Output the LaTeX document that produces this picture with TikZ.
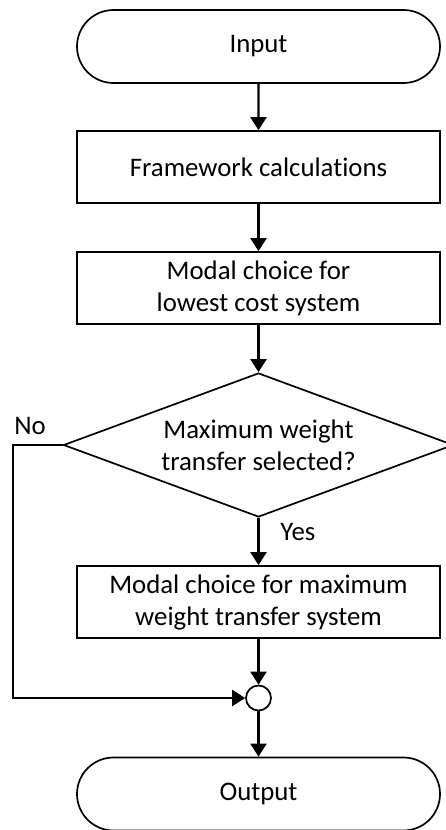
\documentclass[tikz,border=0pt]{standalone}
\usepackage{fontspec}
\setmainfont[Ligatures=NoCommon]{Carlito}
\usetikzlibrary{shapes.misc,shapes.geometric,arrows.meta}
\begin{document}
\begin{tikzpicture}[x=0.5pt,y=-0.5pt,
  every node/.style={font=\fontsize{13.4}{16}\selectfont},
  term/.style={draw,line width=0.85pt,rounded rectangle,minimum width=181.5pt,minimum height=36.5pt,inner sep=0pt},
  proc/.style={draw,line width=0.85pt,rectangle,minimum width=181.5pt,minimum height=36pt,align=center,inner sep=0pt},
  decision/.style={draw,line width=0.85pt,diamond,minimum width=195pt,minimum height=72pt,aspect=2.7,align=center,inner sep=0pt},
  junction/.style={draw,line width=0.85pt,circle,minimum size=12.5pt,inner sep=0pt},
  flow/.style={line width=1.1pt,-{Triangle[width=8pt,length=6.5pt]}},
  lbl/.style={anchor=west,inner sep=0pt}]
\useasboundingbox (0,0) rectangle (445,830);
\node[term] (in) at (258.5,46.5) {Input};
\node[proc] (fw) at (258.5,167) {Framework calculations};
\node[proc] (low) at (258.5,288) {Modal choice for\\lowest cost system};
\node[decision] (dec) at (258.5,445) {Maximum weight\\transfer selected?};
\node[proc] (max) at (258.5,602) {Modal choice for maximum\\weight transfer system};
\node[junction] (jn) at (258.5,698) {};
\node[term] (out) at (258.5,794) {Output};
\coordinate (nocorner) at (13,445);
\node[lbl] (no) at (14,426) {No};
\node[lbl] (yes) at (280,532) {Yes};
\draw[flow] (in) -- (fw);
\draw[flow] (fw) -- (low);
\draw[flow] (low) -- (dec);
\draw[flow] (dec) -- (max);
\draw[flow] (max) -- (jn);
\draw[flow] (jn) -- (out);
\draw[flow] (dec.west) -- (nocorner) |- (jn.west);
\end{tikzpicture}
\end{document}
